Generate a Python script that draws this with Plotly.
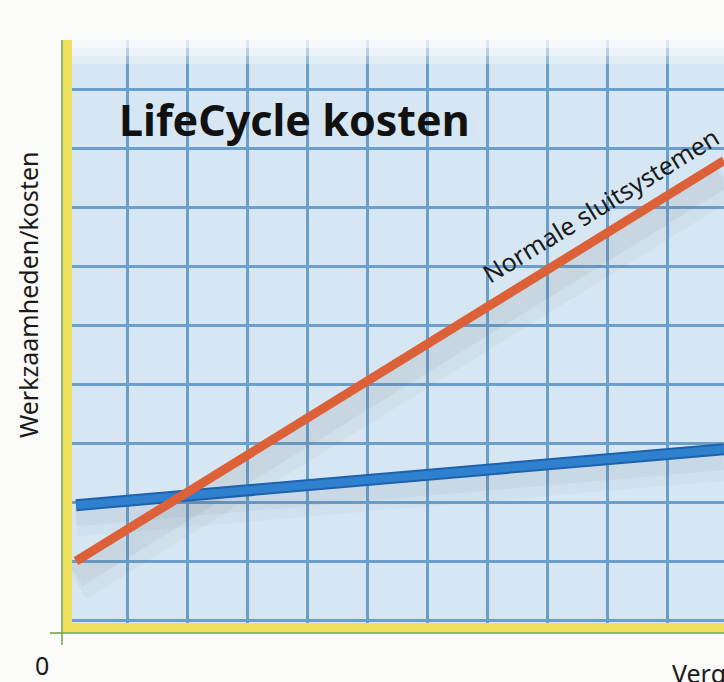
import plotly.graph_objects as go

# ---- data (grid units) ----
x_points = [0.15, 10.95]
normale_sluitsystemen = [1.0, 7.8]
elektronisch = [1.95, 2.9]

title_text = "LifeCycle kosten"
line_label = "Normale sluitsystemen"
y_label = "Werkzaamheden/kosten"
x_label = "Verg"
origin_label = "0"

# ---- geometry ----
W, H = 724, 682
L_PX, R_PX = 72, 724       # plot area left/right in pixels
B_PX, T_PX = 623, 40       # plot area bottom/top in pixels
X0_PX, XU = 67, 60.0       # pixel of x=0, pixels per unit
Y0_PX, YU = 620, 58.9      # pixel of y=0, pixels per unit

def px(p):
    return p / W

def py(p):
    return (H - p) / H

xr = [(L_PX - X0_PX) / XU, (R_PX - X0_PX) / XU]
yr = [(Y0_PX - B_PX) / YU, (Y0_PX - T_PX) / YU]

FONT = "Comic Sans MS, Noto Sans, DejaVu Sans, sans-serif"

fig = go.Figure()

# soft shadows
for w, a, off in [(40, 0.05, 0.35), (24, 0.07, 0.25)]:
    fig.add_trace(go.Scatter(x=x_points, y=[v - off for v in normale_sluitsystemen], mode="lines",
                             line=dict(color=f"rgba(90,90,105,{a})", width=w), hoverinfo="skip", showlegend=False))
for w, a, off in [(30, 0.045, 0.28), (18, 0.06, 0.2)]:
    fig.add_trace(go.Scatter(x=x_points, y=[v - off for v in elektronisch], mode="lines",
                             line=dict(color=f"rgba(90,90,105,{a})", width=w), hoverinfo="skip", showlegend=False))

# blue line (drawn first, orange crosses over it)
fig.add_trace(go.Scatter(x=x_points, y=elektronisch, mode="lines",
                         line=dict(color="#1e62ad", width=12), showlegend=False, hoverinfo="skip"))
fig.add_trace(go.Scatter(x=x_points, y=elektronisch, mode="lines", name="Elektronisch",
                         line=dict(color="#2f80cf", width=8), showlegend=False))
# orange line
fig.add_trace(go.Scatter(x=x_points, y=normale_sluitsystemen, mode="lines", name=line_label,
                         line=dict(color="#dd6138", width=9), showlegend=False))

shapes = []
# green edge lines of the yellow axes
shapes.append(dict(type="line", xref="paper", yref="paper", x0=px(62), x1=px(62), y0=py(645), y1=py(T_PX),
                   line=dict(color="#6f9f4a", width=1.5), layer="above"))
shapes.append(dict(type="line", xref="paper", yref="paper", x0=px(50), x1=1, y0=py(633), y1=py(633),
                   line=dict(color="#6f9f4a", width=1.5), layer="above"))
# fading top of the paper
for i, a in enumerate([0.75, 0.5, 0.3]):
    shapes.append(dict(type="rect", xref="paper", yref="paper", x0=px(L_PX), x1=1,
                       y0=py(T_PX + 8 * (i + 1)), y1=py(T_PX + 8 * i),
                       fillcolor=f"rgba(255,255,255,{a})", line=dict(width=0), layer="above"))

annotations = [
    dict(text=title_text, x=(294 - X0_PX) / XU, y=(Y0_PX - 120) / YU, xref="x", yref="y",
         xanchor="center", yanchor="middle",
         showarrow=False, font=dict(family=FONT, size=43, color="#111111", weight="bold")),
    dict(text=line_label, x=(600 - X0_PX) / XU, y=(Y0_PX - 205) / YU, xref="x", yref="y",
         xanchor="center", yanchor="middle",
         showarrow=False, textangle=-31.5, font=dict(family=FONT, size=25, color="#1a1a1a")),
    dict(text=y_label, x=px(28), y=py(295), xref="paper", yref="paper", showarrow=False,
         xanchor="center", yanchor="middle",
         textangle=-90, font=dict(family=FONT, size=25, color="#1a1a1a")),
    dict(text=origin_label, x=px(42), y=py(665), xref="paper", yref="paper", showarrow=False,
         xanchor="center", yanchor="middle",
         font=dict(family=FONT, size=25, color="#1a1a1a")),
    dict(text=x_label, x=px(670), y=py(673), xref="paper", yref="paper", showarrow=False,
         xanchor="left", yanchor="middle", font=dict(family=FONT, size=25, color="#1a1a1a")),
]

fig.update_layout(
    width=W, height=H,
    margin=dict(l=0, r=0, t=0, b=0),
    paper_bgcolor="#fbfbf9",
    plot_bgcolor="#d6e7f3",
    xaxis=dict(domain=[L_PX / W, 1], range=xr, tick0=0, dtick=1, showgrid=True,
               gridcolor="#6a9fcb", gridwidth=3, zeroline=False, showticklabels=False,
               ticks="", showline=True, linecolor="#efe15c", linewidth=9, fixedrange=True),
    yaxis=dict(domain=[(H - B_PX) / H, (H - T_PX) / H], range=yr, tick0=0, dtick=1, showgrid=True,
               gridcolor="#6a9fcb", gridwidth=3, zeroline=False, showticklabels=False,
               ticks="", showline=True, linecolor="#efe15c", linewidth=9, fixedrange=True),
    shapes=shapes,
    annotations=annotations,
    showlegend=False,
)

fig.write_html("out.html", config={"displayModeBar": False},
               post_script="document.body.style.margin='0';")
